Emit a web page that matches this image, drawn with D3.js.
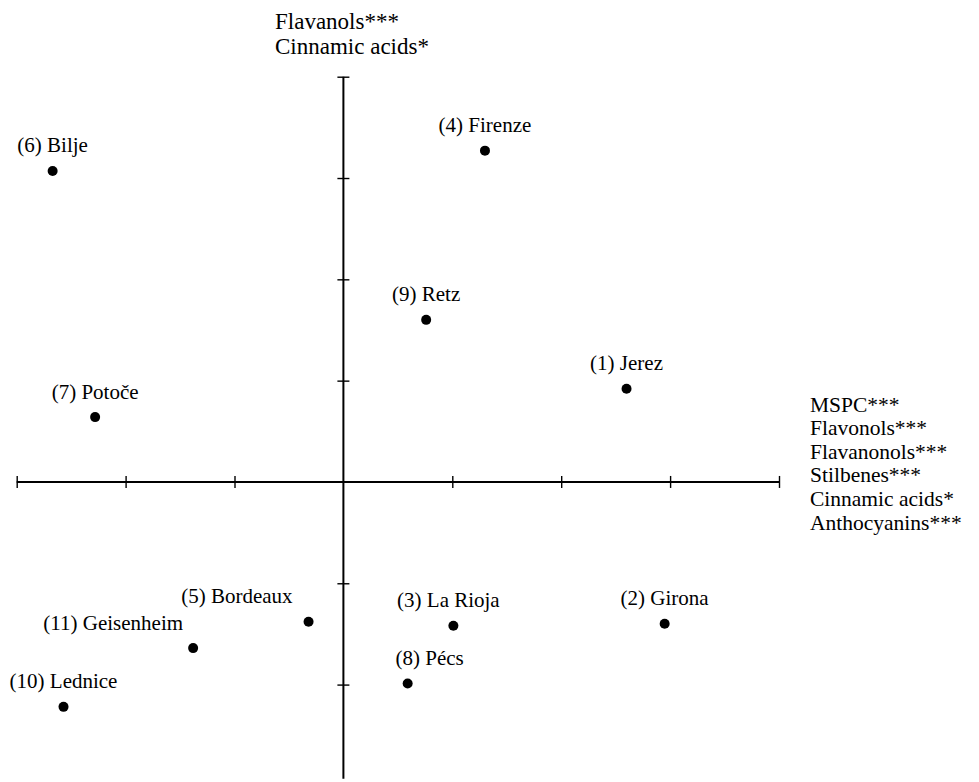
<!DOCTYPE html>
<html>
<head>
<meta charset="utf-8">
<script src="https://cdn.jsdelivr.net/npm/d3@7/dist/d3.min.js"></script>
<style>
  html, body { margin: 0; padding: 0; background: #fff; }
  svg text { font-family: "Liberation Serif", "Times New Roman", serif; fill: #000; }
</style>
</head>
<body>
<svg id="chart" width="979" height="782"></svg>
<script>
// Wine regions plotted on the first two discriminant functions
const regions = ["(1) Jerez", "(2) Girona", "(3) La Rioja", "(4) Firenze", "(5) Bordeaux",
  "(6) Bilje", "(7) Potoče", "(8) Pécs", "(9) Retz", "(10) Lednice", "(11) Geisenheim"];
const scoreX = [2.60, 2.95, 1.01, 1.30, -0.32, -2.67, -2.28, 0.59, 0.76, -2.57, -1.38];
const scoreY = [0.92, -1.40, -1.42, 3.27, -1.38, 3.07, 0.64, -1.99, 1.60, -2.22, -1.64];

// Axis descriptors (variables loading on each function)
const xAxisTitle = ["MSPC***", "Flavonols***", "Flavanonols***", "Stilbenes***", "Cinnamic acids*", "Anthocyanins***"];
const yAxisTitle = ["Flavanols***", "Cinnamic acids*"];

const xTicks = [-3, -2, -1, 1, 2, 3, 4];
const yTicks = [-2, -1, 1, 2, 3, 4];

// label placement: anchor and horizontal nudge for each region
const labelAnchor = ["middle", "middle", "middle", "middle", "end", "middle", "middle", "middle", "middle", "middle", "end"];
const labelDx = [0, 0, -5, 0, -16, 0, 0, 22, 0, 0, -10];

const svg = d3.select("#chart");
const x = d3.scaleLinear().domain([-3, 4]).range([16.7, 779]);
const y = d3.scaleLinear().domain([-3, 4]).range([785.9, 76.7]);
const yBottom = -2.93;

// tick marks crossing each axis
const tickLen = 12;
const gx = svg.append("g")
  .attr("transform", `translate(0,${y(0) - tickLen / 2})`)
  .call(d3.axisBottom(x).tickValues(xTicks).tickSize(tickLen).tickFormat(""));
const gy = svg.append("g")
  .attr("transform", `translate(${x(0) + tickLen / 2},0)`)
  .call(d3.axisLeft(y).tickValues(yTicks).tickSize(tickLen).tickFormat(""));
[gx, gy].forEach(g => {
  g.select(".domain").remove();
  g.selectAll(".tick line").attr("stroke", "#000").attr("stroke-width", 1.4);
});

// axis lines
svg.append("line")
  .attr("x1", x(-3)).attr("x2", x(4)).attr("y1", y(0)).attr("y2", y(0))
  .attr("stroke", "#000").attr("stroke-width", 2);
svg.append("line")
  .attr("x1", x(0)).attr("x2", x(0)).attr("y1", y(4)).attr("y2", y(yBottom))
  .attr("stroke", "#000").attr("stroke-width", 2);

// points
const data = regions.map((name, i) => ({ name, sx: scoreX[i], sy: scoreY[i], anchor: labelAnchor[i], dx: labelDx[i] }));
svg.append("g").selectAll("circle").data(data).join("circle")
  .attr("cx", d => x(d.sx)).attr("cy", d => y(d.sy)).attr("r", 5).attr("fill", "#000");
svg.append("g").selectAll("text").data(data).join("text")
  .attr("x", d => x(d.sx) + d.dx).attr("y", d => y(d.sy) - 18.5)
  .attr("text-anchor", d => d.anchor)
  .attr("font-size", 21)
  .text(d => d.name);

// axis titles
svg.append("g").selectAll("text").data(yAxisTitle).join("text")
  .attr("x", 275).attr("y", (d, i) => 29 + i * 24.5)
  .attr("font-size", 23)
  .text(d => d);
svg.append("g").selectAll("text").data(xAxisTitle).join("text")
  .attr("x", 810).attr("y", (d, i) => 411.5 + i * 23.6)
  .attr("font-size", 21.5)
  .text(d => d);
</script>
</body>
</html>
